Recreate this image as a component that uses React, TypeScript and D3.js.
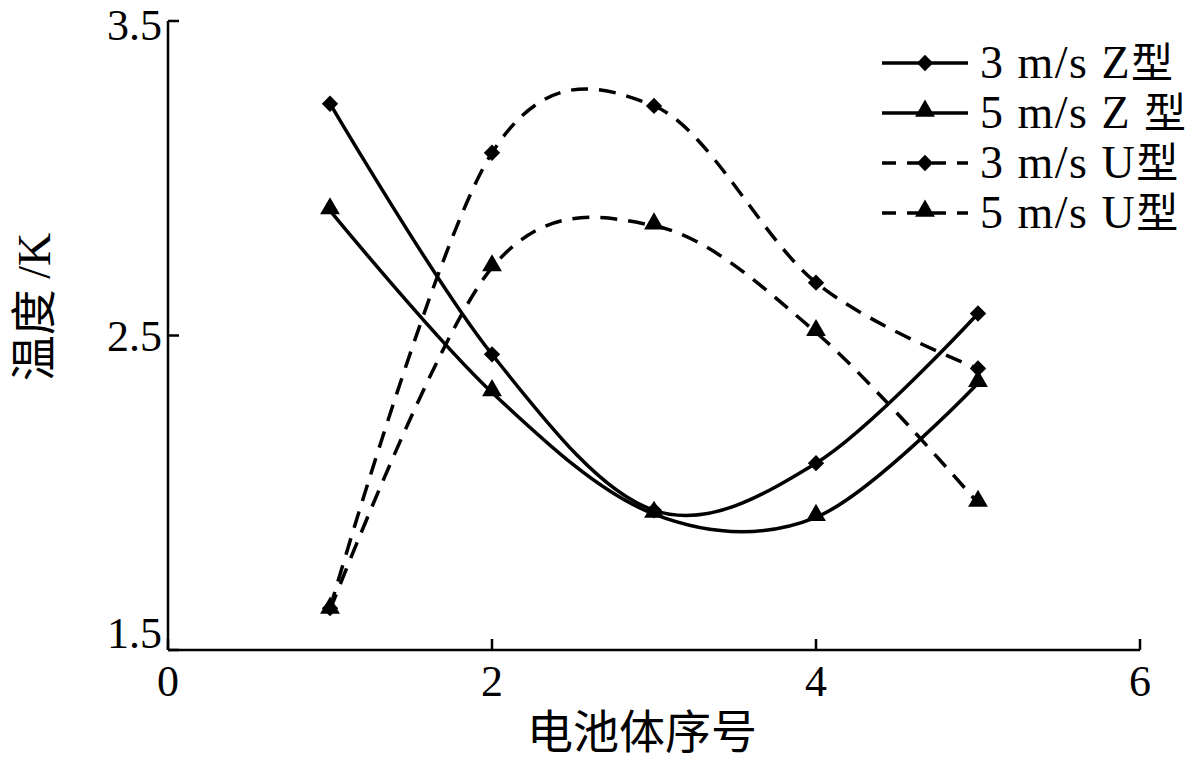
import React from "react";
import * as d3 from "d3";

const xValues = [1, 2, 3, 4, 5];
const z3 = [3.237, 2.44, 1.944, 2.094, 2.57];
const z5 = [2.897, 2.319, 1.932, 1.922, 2.348];
const u3 = [1.633, 3.081, 3.23, 2.668, 2.395];
const u5 = [1.627, 2.716, 2.849, 2.51, 1.967];
const seriesNames = ["3 m/s Z型", "5 m/s Z 型", "3 m/s U型", "5 m/s U型"];
const xTicks = [0, 2, 4, 6];
const yTicks = [1.5, 2.5, 3.5];

const W = 1200;
const H = 759;

export default function App() {
  const x = d3.scaleLinear().domain([0, 6]).range([168, 1140]);
  const y = d3.scaleLinear().domain([1.5, 3.5]).range([650, 21]);
  const series = [
    { name: seriesNames[0], vals: z3, dash: "", marker: "diamond" },
    { name: seriesNames[1], vals: z5, dash: "", marker: "triangle" },
    { name: seriesNames[2], vals: u3, dash: "17 11", marker: "diamond" },
    { name: seriesNames[3], vals: u5, dash: "17 11", marker: "triangle" },
  ];
  const line = d3
    .line<number>()
    .x((_, i) => x(xValues[i]))
    .y((d) => y(d))
    .curve(d3.curveCardinal.tension(0));
  const diamond = d3.symbol().type(d3.symbolDiamond2).size(170)();
  const triangle = d3.symbol().type(d3.symbolTriangle).size(170)();
  const serif = "'Liberation Serif', 'Times New Roman', serif";
  const cjk = "'Noto Sans CJK SC', sans-serif";
  const marker = (type: string, cx: number, cy: number, key: string) => (
    <path
      key={key}
      d={type === "diamond" ? diamond! : triangle!}
      transform={`translate(${cx},${cy - (type === "triangle" ? 2 : 0)})`}
      fill="#000"
    />
  );
  return (
    <svg
      width={W}
      height={H}
      style={{ position: "absolute", left: 0, top: 0, background: "#fff" }}
    >
      <rect width={W} height={H} fill="#fff" />
      {/* axes */}
      <line x1={x(0)} x2={x(0)} y1={y(3.5)} y2={y(1.5)} stroke="#000" strokeWidth={2.5} />
      <line x1={x(0)} x2={x(6)} y1={y(1.5)} y2={y(1.5)} stroke="#000" strokeWidth={2.5} />
      {xTicks.map((t) => (
        <g key={"xt" + t}>
          <line x1={x(t)} x2={x(t)} y1={y(1.5)} y2={y(1.5) - 11} stroke="#000" strokeWidth={2.5} />
          <text
            x={x(t)}
            y={y(1.5) + 46}
            textAnchor="middle"
            fontFamily={serif}
            fontSize={44}
            fill="#000"
          >
            {t}
          </text>
        </g>
      ))}
      {yTicks.map((t) => (
        <g key={"yt" + t}>
          <line x1={x(0)} x2={x(0) + 11} y1={y(t)} y2={y(t)} stroke="#000" strokeWidth={2.5} />
          <text
            x={x(0) - 6}
            y={Math.max(40, Math.min(y(t) + 15, y(1.5) - 2))}
            textAnchor="end"
            fontFamily={serif}
            fontSize={44}
            fill="#000"
          >
            {t.toFixed(1)}
          </text>
        </g>
      ))}
      {/* series */}
      {series.map((s, si) => (
        <g key={"s" + si}>
          <path
            d={line(s.vals)!}
            fill="none"
            stroke="#000"
            strokeWidth={3.5}
            strokeDasharray={s.dash || undefined}
          />
          {s.vals.map((v, i) => marker(s.marker, x(xValues[i]), y(v), `m${si}-${i}`))}
        </g>
      ))}
      {/* legend */}
      {series.map((s, si) => {
        const ly = 63 + si * 50;
        return (
          <g key={"l" + si}>
            <line
              x1={882}
              x2={968}
              y1={ly}
              y2={ly}
              stroke="#000"
              strokeWidth={3.5}
              strokeDasharray={s.dash ? "14 11" : undefined}
            />
            {marker(s.marker, 925, ly, "lm" + si)}
            <text
              x={980}
              y={ly + 15}
              fontFamily={serif}
              fontSize={46}
              letterSpacing={1.5}
              fill="#000"
            >
              {s.name.replace("型", "")}
              <tspan fontFamily={cjk} fontSize={42}>型</tspan>
            </text>
          </g>
        );
      })}
      {/* axis titles */}
      <text
        x={x(3) - 12}
        y={748}
        textAnchor="middle"
        fontFamily={cjk}
        fontSize={46}
        fill="#000"
      >
        电池体序号
      </text>
      <text
        transform={`translate(50,307) rotate(-90)`}
        textAnchor="middle"
        fontFamily={cjk}
        fontSize={46}
        fill="#000"
      >
        温度 <tspan fontFamily={serif}>/K</tspan>
      </text>
    </svg>
  );
}
